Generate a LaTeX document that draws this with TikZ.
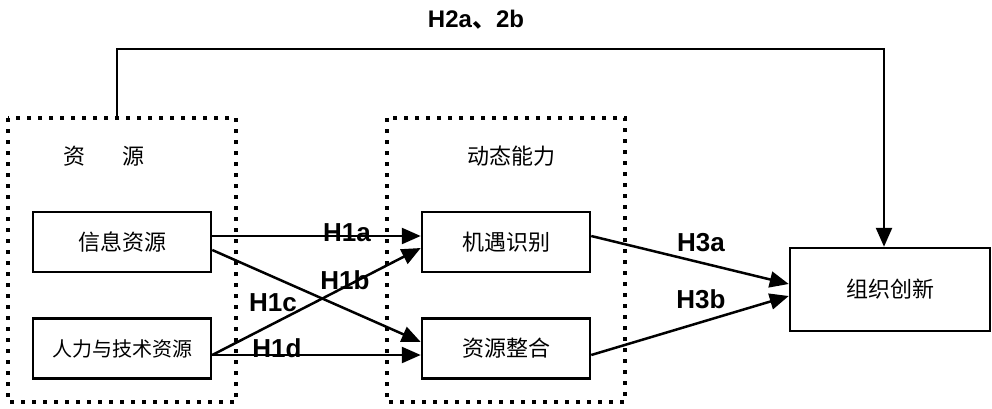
\documentclass[tikz,border=0pt]{standalone}
\usepackage{fontspec}
\setmainfont{Liberation Sans}
\newfontfamily\cjk{Noto Sans CJK SC}
\usetikzlibrary{arrows.meta}
\begin{document}
\begin{tikzpicture}[x=1pt,y=-1pt,
  box/.style={draw,line width=2.5pt,minimum width=178pt,minimum height=60pt,inner sep=0pt,font=\cjk\fontsize{22}{22}\selectfont},
  grp/.style={draw,line width=4pt,dash pattern=on 4pt off 7pt},
  arr/.style={line width=2.5pt,-{Triangle[length=19pt,width=16pt]}},
  lab/.style={font=\bfseries\fontsize{26}{26}\selectfont,inner sep=0pt},
  title/.style={font=\cjk\fontsize{22}{22}\selectfont,inner sep=0pt}]
\useasboundingbox (0,0) rectangle (992,409);
\draw[grp] (8,118) rectangle (236,402);
\draw[grp] (387,118) rectangle (625,402);
\node[box] (info) at (122,242) {信息资源};
\node[box,font=\cjk\fontsize{20}{20}\selectfont] (human) at (122,348.5) {人力与技术资源};
\node[box,minimum width=168pt] (opp) at (506,242) {机遇识别};
\node[box,minimum width=168pt] (integ) at (506,348.5) {资源整合};
\node[box,minimum width=200pt,minimum height=83pt] (innov) at (890,289.5) {组织创新};
\node[title] (res) at (104,156) {资\hspace{1.7em}源};
\node[title] (dyn) at (511,156) {动态能力};
\coordinate (top) at (117,116);
\draw[arr] (top) |- (884,49) -- (innov.north -| 884,0);
\node[lab,font=\bfseries\fontsize{24}{24}\selectfont] (h2) at (476,20) {H2a{\cjk 、}2b};
\draw[arr] (info.east |- 0,236) -- (opp.west |- 0,236);
\draw[arr] (info.east |- 0,250) -- (integ.west |- 0,342);
\draw[arr] (human.east |- 0,355) -- (opp.west |- 0,248);
\draw[arr] (human.east |- 0,355) -- (integ.west |- 0,355);
\draw[arr] (opp.east |- 0,236) -- (innov.west |- 0,284);
\draw[arr] (integ.east |- 0,355) -- (innov.west |- 0,296);
\node[lab] (h1a) at (347,233) {H1a};
\node[lab] (h1b) at (345,280) {H1b};
\node[lab] (h1c) at (273,303) {H1c};
\node[lab] (h1d) at (277,348) {H1d};
\node[lab] (h3a) at (701,243) {H3a};
\node[lab] (h3b) at (701,299) {H3b};
\end{tikzpicture}
\end{document}
